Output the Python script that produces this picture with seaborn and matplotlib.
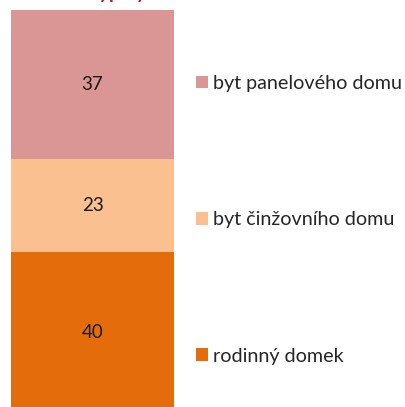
import matplotlib
matplotlib.use("Agg")
import matplotlib.pyplot as plt
import seaborn as sns
import numpy as np
import pandas as pd
from matplotlib.patches import Patch

categories = ["rodinný domek", "byt činžovního domu", "byt panelového domu"]
values = [40, 23, 37]
colors = ["#E46C0A", "#FAC090", "#D99694"]
title_text = "Typ bydlení"

sns.set_theme(style="white")
plt.rcParams['font.family'] = ['Lato', 'DejaVu Sans']

W, H = 406, 407
fig = plt.figure(figsize=(W / 100, H / 100), dpi=100)
ax = fig.add_axes([11 / W, -6 / H, 163 / W, 403 / H])

cum = np.cumsum(values)
bottoms = cum - np.array(values)
# draw from top-most cumulative to bottom so segments stack
for i in reversed(range(len(values))):
    df = pd.DataFrame({"g": ["a"], "v": [cum[i]]})
    sns.barplot(data=df, x="g", y="v", color=colors[i], width=0.8,
                saturation=1, ax=ax, linewidth=0)
for i, v in enumerate(values):
    ax.text(0, bottoms[i] + v / 2, str(v), ha="center", va="center",
            fontsize=13.5, color="#1a1a1a")

ax.set_xlim(-0.4, 0.4)
ax.set_ylim(0, 100)
ax.axis("off")

handles = [Patch(facecolor=colors[i], edgecolor="none") for i in reversed(range(len(values)))]
labels = [categories[i] for i in reversed(range(len(values)))]
leg = fig.legend(handles, labels, loc="upper left", bbox_to_anchor=(196 / W, 1 - 75 / H),
                 frameon=False, fontsize=14.2, labelspacing=6.05, handlelength=0.6,
                 handleheight=0.6, handletextpad=0.28, borderaxespad=0, borderpad=0)

fig.text(138 / W, 1 + 1 / H, title_text, ha="center", va="baseline",
         fontsize=14, fontweight="bold", color="#C0143C")

fig.savefig("out.png", dpi=100)
